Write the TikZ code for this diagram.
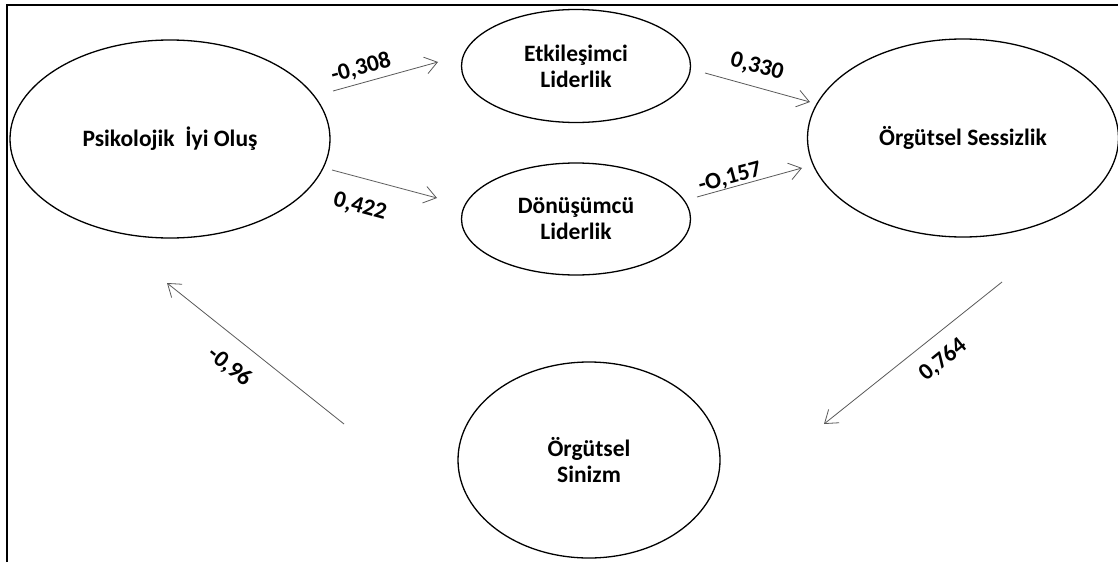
\documentclass[tikz,border=0pt]{standalone}
\usepackage{fontspec}
\setmainfont{Carlito}
\usetikzlibrary{arrows.meta,shapes.geometric}
\tikzset{
	latent/.style={draw, ellipse, line width=1.3pt, inner sep=0pt, align=center,
		font=\fontsize{23.5}{26}\selectfont\bfseries},
	link/.style={line width=0.8pt, color=black!65, -{Straight Barb[length=12pt,width=17pt]}},
	coef/.style={inner sep=0pt, font=\fontsize{23.5}{26}\selectfont\bfseries}
}

\begin{document}
\begin{tikzpicture}[x=1pt, y=-1pt]
		%%%%% START %%%%%
		\useasboundingbox (0,0) rectangle (1118,562);
		
		\draw[line width=2pt] (7,562) -- (7,4.5) -- (1118,4.5);
		
		\node[latent, minimum width=320pt, minimum height=198pt] (psi) at (170,139) {Psikolojik \ İyi Oluş};
		\node[latent, minimum width=229pt, minimum height=113pt] (etk) at (576,66) {Etkileşimci\\Liderlik};
		\node[latent, minimum width=229pt, minimum height=112pt] (don) at (576,219) {Dönüşümcü\\Liderlik};
		\node[latent, minimum width=311pt, minimum height=198pt] (ses) at (963,138) {Örgütsel Sessizlik};
		\node[latent, minimum width=262pt, minimum height=196pt] (sin) at (589,460) {Örgütsel\\Sinizm};
		
		\coordinate (a1s) at (333,91);  \coordinate (a1e) at (438,62);
		\coordinate (a2s) at (332,170); \coordinate (a2e) at (437,198);
		\coordinate (a3s) at (705,73);  \coordinate (a3e) at (810,102);
		\coordinate (a4s) at (697,197); \coordinate (a4e) at (802,168);
		\coordinate (a5s) at (1002,282); \coordinate (a5e) at (824,424);
		\coordinate (a6s) at (344,424); \coordinate (a6e) at (167,283);
		
		\draw[link] (a1s) -- (a1e);
		\draw[link] (a2s) -- (a2e);
		\draw[link] (a3s) -- (a3e);
		\draw[link] (a4s) -- (a4e);
		\draw[link] (a5s) -- (a5e);
		\draw[link] (a6s) -- (a6e);
		
		\node[coef, rotate=15] (c1) at (361,68) {-0,308};
		\node[coef, rotate=-15] (c2) at (360,207) {0,422};
		\node[coef, rotate=-15] (c3) at (757,67) {0,330};
		\node[coef, rotate=15] (c4) at (730,178) {-O,157};
		\node[coef, rotate=39] (c5) at (943,360) {0,764};
		\node[coef, rotate=-39] (c6) at (230,367) {-0,96};
		
		%%%%% END %%%%%
	\end{tikzpicture}
\end{document}
